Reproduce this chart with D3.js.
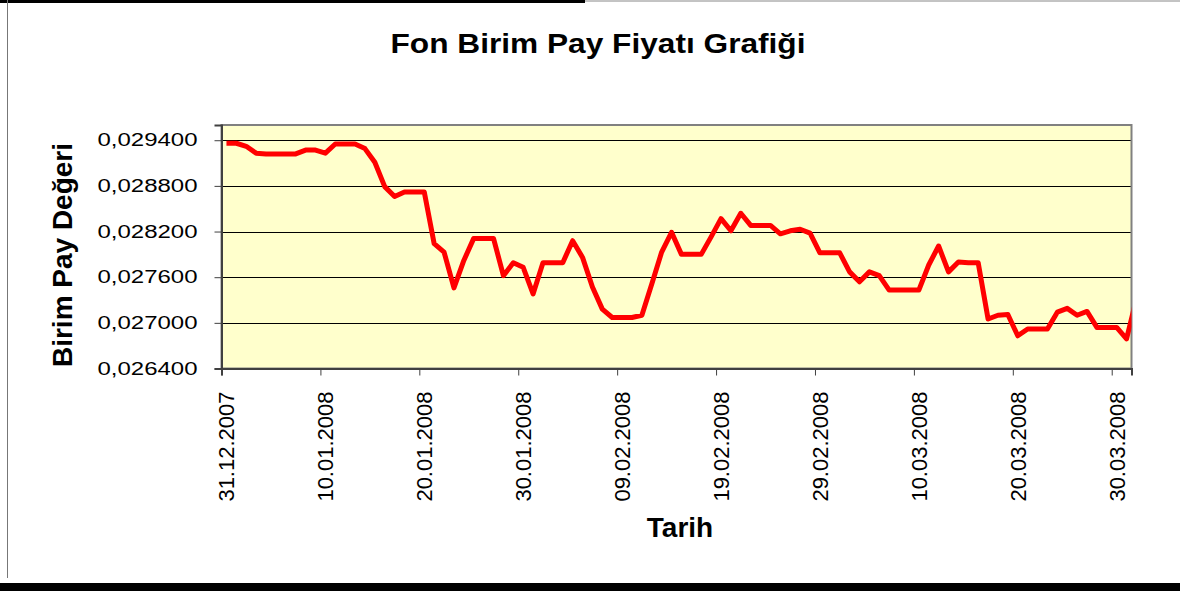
<!DOCTYPE html>
<html>
<head>
<meta charset="utf-8">
<script src="https://cdn.jsdelivr.net/npm/d3@7"></script>
<style>
  body { margin: 0; background: #fff; }
  text { font-family: "Liberation Sans", Arial, sans-serif; }
</style>
</head>
<body>
<div id="chart"></div>
<script>
// first day of the series, one value per day after that (weekends repeat friday)
var startDate = "31.12.2007";
var endDate = "01.04.2008";
var priceValues = [
  0.02936, 0.02936, 0.02932, 0.02923, 0.02922, 0.02922, 0.02922, 0.02922, 0.02927, 0.02927,
  0.02923, 0.02935, 0.02935, 0.02935, 0.02929, 0.02911, 0.02879, 0.02866, 0.02872, 0.02872,
  0.02872, 0.02804, 0.02793, 0.02746, 0.02782, 0.02811, 0.02811, 0.02811, 0.02762, 0.02779,
  0.02773, 0.02738, 0.02779, 0.02779, 0.02779, 0.02808, 0.02786, 0.02747, 0.02718, 0.02707,
  0.02707, 0.02707, 0.02710, 0.02751, 0.02793, 0.02819, 0.02790, 0.02790, 0.02790, 0.02813,
  0.02837, 0.02821, 0.02844, 0.02828, 0.02828, 0.02828, 0.02817, 0.02821, 0.02823, 0.02818,
  0.02792, 0.02792, 0.02792, 0.02767, 0.02754, 0.02767, 0.02762, 0.02743, 0.02743, 0.02743,
  0.02743, 0.02776, 0.02801, 0.02767, 0.02780, 0.02779, 0.02779, 0.02705, 0.02710, 0.02711,
  0.02683, 0.02692, 0.02692, 0.02692, 0.02714, 0.02719, 0.02710, 0.02715, 0.02694, 0.02694,
  0.02694, 0.02679, 0.02732
];
var dateTicks = ["31.12.2007", "10.01.2008", "20.01.2008", "30.01.2008", "09.02.2008",
  "19.02.2008", "29.02.2008", "10.03.2008", "20.03.2008", "30.03.2008"];
var valueTicks = [0.0264, 0.0270, 0.0276, 0.0282, 0.0288, 0.0294];
var valueRange = [0.0264, 0.0296];

var width = 1180,
    height = 592,
    plotLeft = 221.5,
    plotRight = 1131.5,
    plotTop = 125,
    plotBottom = 368.5;

var parse = d3.timeParse("%d.%m.%Y");

var start = parse(startDate);
var data = priceValues.map(function(v, i) {
  return { date: d3.timeDay.offset(start, i), value: v };
});

var x = d3.scaleTime()
    .domain([start, parse(endDate)])
    .range([plotLeft, plotRight]);

var y = d3.scaleLinear()
    .domain(valueRange)
    .range([plotBottom, plotTop]);

// excel puts each day's point in the middle of its day slot
function mid(d) { return x(d3.timeHour.offset(d, 12)); }

var svg = d3.select("#chart").append("svg")
    .attr("width", width)
    .attr("height", height);

svg.append("rect")
    .attr("width", width)
    .attr("height", height)
    .attr("fill", "#fff");

// outer frame of the screenshot
svg.append("line").attr("x1", 0).attr("x2", 585).attr("y1", 1.5).attr("y2", 1.5)
    .attr("stroke", "#000").attr("stroke-width", 3);
svg.append("line").attr("x1", 585).attr("x2", width).attr("y1", 1).attr("y2", 1)
    .attr("stroke", "#888").attr("stroke-width", 1);
svg.append("line").attr("x1", 7.5).attr("x2", 7.5).attr("y1", 0).attr("y2", 578)
    .attr("stroke", "#777").attr("stroke-width", 1);
svg.append("line").attr("x1", 0).attr("x2", width).attr("y1", 587).attr("y2", 587)
    .attr("stroke", "#000").attr("stroke-width", 8);

svg.append("defs").append("clipPath")
    .attr("id", "plot-clip")
  .append("rect")
    .attr("x", plotLeft)
    .attr("y", plotTop)
    .attr("width", plotRight - plotLeft)
    .attr("height", plotBottom - plotTop);

svg.append("rect")
    .attr("x", plotLeft)
    .attr("y", plotTop)
    .attr("width", plotRight - plotLeft)
    .attr("height", plotBottom - plotTop)
    .attr("fill", "#ffffcc");

// gridlines
svg.append("g")
  .selectAll("line")
  .data(valueTicks.slice(1))
  .enter().append("line")
    .attr("x1", plotLeft)
    .attr("x2", plotRight)
    .attr("y1", function(d) { return Math.round(y(d)) + 0.5; })
    .attr("y2", function(d) { return Math.round(y(d)) + 0.5; })
    .attr("stroke", "#000")
    .attr("stroke-width", 1);

// plot border
svg.append("rect")
    .attr("x", plotLeft)
    .attr("y", plotTop)
    .attr("width", plotRight - plotLeft)
    .attr("height", plotBottom - plotTop)
    .attr("fill", "none")
    .attr("stroke", "#808080")
    .attr("stroke-width", 2);

var yAxis = svg.append("g")
    .attr("transform", "translate(" + plotLeft + ",0)")
    .call(d3.axisLeft(y)
      .tickValues(valueTicks)
      .tickSize(7)
      .tickPadding(17)
      .tickFormat(function(d) { return d3.format(".6f")(d).replace(".", ","); }));

yAxis.select(".domain").attr("stroke", "#404040").attr("stroke-width", 2);
yAxis.selectAll(".tick line").attr("stroke", "#404040");
yAxis.selectAll(".tick text")
    .attr("fill", "#000")
    .attr("textLength", 100)
    .attr("lengthAdjust", "spacingAndGlyphs")
    .style("font-size", "18px");

var xAxis = svg.append("g")
    .attr("transform", "translate(0," + plotBottom + ")")
    .call(d3.axisBottom(x)
      .tickValues(dateTicks.map(parse))
      .tickSize(7)
      .tickFormat(""));

xAxis.select(".domain").attr("stroke", "#404040").attr("stroke-width", 2);
xAxis.selectAll(".tick line").attr("stroke", "#404040");

svg.append("g")
  .selectAll("text")
  .data(dateTicks)
  .enter().append("text")
    .attr("transform", function(d) {
      return "translate(" + mid(parse(d)) + "," + (plotBottom + 23) + ") rotate(-90)";
    })
    .attr("dy", "0.36em")
    .style("text-anchor", "end")
    .style("font-size", "22px")
    .attr("fill", "#000")
    .text(function(d) { return d; });

var line = d3.line()
    .x(function(d) { return mid(d.date); })
    .y(function(d) { return y(d.value); });

svg.append("path")
    .datum(data)
    .attr("clip-path", "url(#plot-clip)")
    .attr("d", line)
    .attr("fill", "none")
    .attr("stroke", "#ff0000")
    .attr("stroke-width", 5)
    .attr("stroke-linejoin", "round");

svg.append("text")
    .attr("x", 598)
    .attr("y", 53)
    .style("text-anchor", "middle")
    .style("font-size", "28px")
    .style("font-weight", "bold")
    .attr("textLength", 415)
    .attr("lengthAdjust", "spacingAndGlyphs")
    .text("Fon Birim Pay Fiyatı Grafiği");

svg.append("text")
    .attr("transform", "translate(72," + 255 + ") rotate(-90)")
    .style("text-anchor", "middle")
    .style("font-size", "28px")
    .style("font-weight", "bold")
    .text("Birim Pay Değeri");

svg.append("text")
    .attr("x", 680)
    .attr("y", 537)
    .style("text-anchor", "middle")
    .style("font-size", "28px")
    .style("font-weight", "bold")
    .text("Tarih");
</script>
</body>
</html>
